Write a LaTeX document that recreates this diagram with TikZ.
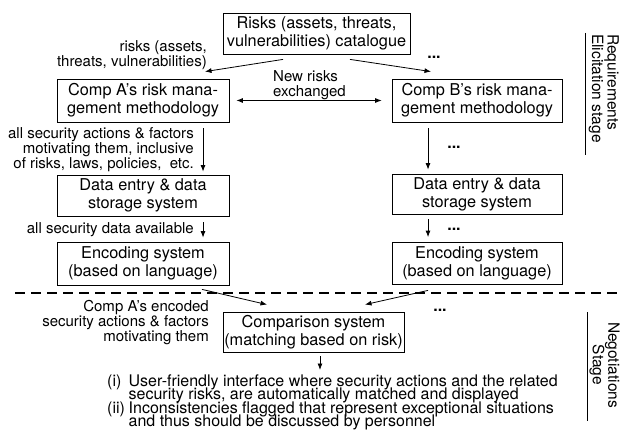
\documentclass[tikz,border=0pt]{standalone}
\usepackage{fontspec}
\setmainfont{TeX Gyre Heros}
\usetikzlibrary{arrows.meta}
\begin{document}
\begin{tikzpicture}[x=1pt,y=-1pt,
  box/.style={draw, line width=0.8pt, inner sep=0pt, align=center,
    font=\fontsize{16.3}{18}\selectfont},
  lbl/.style={inner sep=0pt, font=\fontsize{15}{15}\selectfont},
  arr/.style={line width=0.8pt, -{Latex[length=6.5pt,width=5pt]}},
  darr/.style={line width=0.8pt, {Latex[length=6.5pt,width=5pt]}-{Latex[length=6.5pt,width=5pt]}},
  dots/.style={inner sep=0pt, font=\fontsize{16}{16}\selectfont\bfseries},
  side/.style={inner sep=0pt, rotate=-90, font=\fontsize{15.5}{15.5}\selectfont},
  rule/.style={line width=0.8pt},
  restext/.style={inner sep=0pt, anchor=north west, align=left,
    font=\fontsize{16}{13.4}\selectfont,
    execute at begin node={\lineskiplimit=-30pt\relax\lineskip=0pt\relax}}]
\useasboundingbox (0,0) rectangle (620,430);

% boxes
\node[box, minimum width=187pt, minimum height=41pt] (cat) at (316.5,33.5)
  {Risks (assets, threats,\\vulnerabilities) catalogue};
\node[box, minimum width=172pt, minimum height=43pt] (ca) at (143,100.5)
  {Comp A's risk mana-\\gement methodology};
\node[box, minimum width=170pt, minimum height=43pt] (cb) at (477,100.5)
  {Comp B's risk mana-\\gement methodology};
\node[box, minimum width=172pt, minimum height=41pt] (da) at (143,195.5)
  {Data entry \& data\\storage system};
\node[box, minimum width=170pt, minimum height=40pt] (db) at (477,194)
  {Data entry \& data\\storage system};
\node[box, minimum width=172pt, minimum height=43pt] (ea) at (143,263.5)
  {Encoding system\\(based on language)};
\node[box, minimum width=170pt, minimum height=42pt] (eb) at (477,263.5)
  {Encoding system\\(based on language)};
\node[box, minimum width=181pt, minimum height=40pt] (cmp) at (313.5,332)
  {Comparison system\\(matching based on risk)};

% connectors
\draw[arr] ([shift={(-33.5,5)}]cat.south) -- ([shift={(62,-7)}]ca.north);
\draw[arr] ([shift={(33.5,5)}]cat.south) -- ([shift={(-46,-7)}]cb.north);
\draw[darr] ([shift={(7,0)}]ca.east) -- ([shift={(-10,0)}]cb.west);
\draw[arr] ([shift={(60,6)}]ca.south) -- ([shift={(60,-3)}]da.north);
\draw[arr] ([shift={(60,6)}]da.south) -- ([shift={(60,-4)}]ea.north);
\draw[arr] ([shift={(-49,6)}]cb.south) -- ([shift={(-49,-4)}]db.north);
\draw[arr] ([shift={(-49,5)}]db.south) -- ([shift={(-49,-5)}]eb.north);
\draw[arr] ([shift={(59,4)}]ea.south) -- ([shift={(-46.5,-7)}]cmp.north);
\draw[arr] ([shift={(-49,5.5)}]eb.south) -- ([shift={(51.5,-7)}]cmp.north);
\coordinate (out) at (320,370);
\draw[arr] ([shift={(6.5,4)}]cmp.south) -- (out);

% labels
\node[lbl, align=right, anchor=east] (l1) at (207,55)
  {risks (assets,\\threats, vulnerabilities)};
\node[lbl, align=left, anchor=west] (l2) at (273,85)
  {New risks\\exchanged};
\node[lbl, align=right, anchor=east] (l3) at (194,150)
  {all security actions \& factors\\motivating them, inclusive\\of risks, laws, policies,\ \ etc.};
\node[lbl, anchor=east] (l4) at (194,230) {all security data available};
\node[lbl, align=right, anchor=east] (l5) at (209,323)
  {Comp A's encoded\\security actions \& factors\\motivating them};

% dots
\node[dots] (d1) at (434,57) {...};
\node[dots] (d2) at (454,147) {...};
\node[dots] (d3) at (454,229) {...};
\node[dots] (d4) at (440,310) {...};

% stage separator
\coordinate (sepL) at (15,293);
\coordinate (sepR) at (620,293);
\draw[line width=1.2pt, dash pattern=on 10pt off 6pt] (sepL) -- (sepR);

% side labels
\coordinate (r1a) at (585,33);
\coordinate (r1b) at (585,155);
\draw[rule] (r1a) -- (r1b);
\node[side, align=left, anchor=north west] (req) at (619,34)
  {Requirements\\Elicitation stage};
\coordinate (r2a) at (587,312);
\coordinate (r2b) at (587,421);
\draw[rule] (r2a) -- (r2b);
\node[side, align=center] (neg) at (604.5,365)
  {Negotiations\\Stage};

% result text
\node[restext] (res) at (107,374.5)
  {\hbox to 21.5pt{(i)\hfil}User-friendly interface where security actions and the related\\
   \hbox to 21.5pt{\hfil}security risks, are automatically matched and displayed\\
   \hbox to 21.5pt{(ii)\hfil}Inconsistencies flagged that represent exceptional situations\\
   \hbox to 21.5pt{\hfil}and thus should be discussed by personnel};
\end{tikzpicture}
\end{document}
